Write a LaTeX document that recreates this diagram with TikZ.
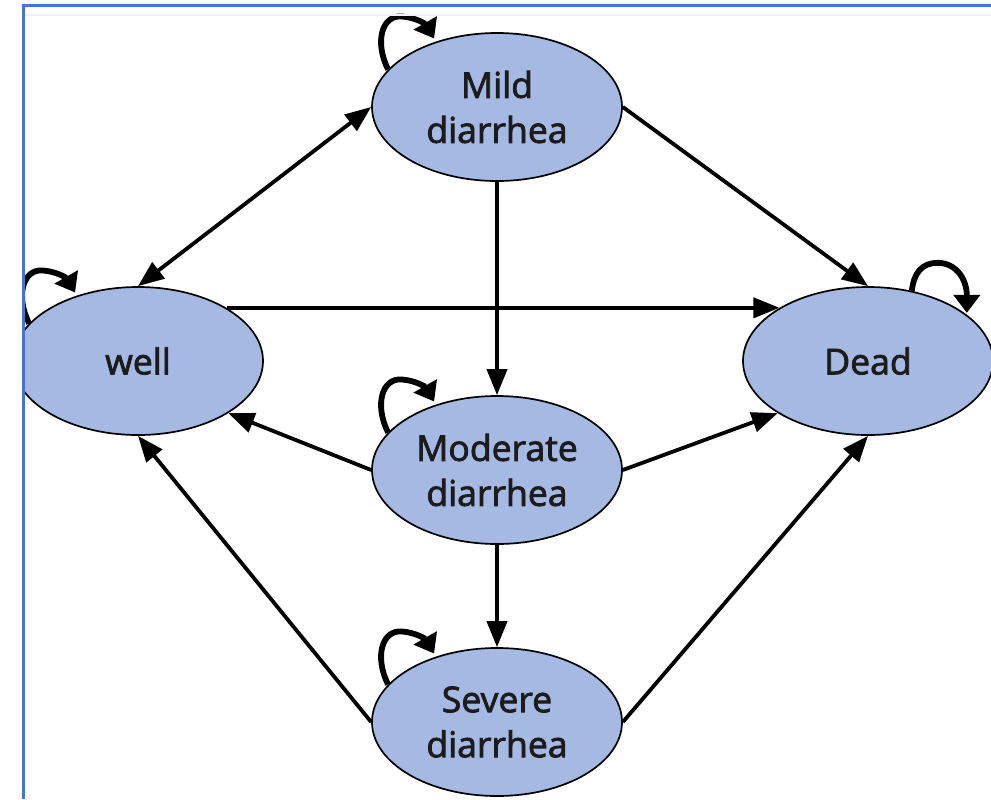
\documentclass[tikz,border=0pt]{standalone}
\usepackage{fontspec}
\setmainfont{Open Sans}[BoldFont={Open Sans}, BoldFeatures={FakeBold=2.2}]
\usetikzlibrary{arrows.meta,shapes.geometric}
\definecolor{ellfill}{RGB}{166,185,226}
\definecolor{framebl}{RGB}{70,116,214}
\definecolor{txt}{RGB}{28,28,30}
\begin{document}
\begin{tikzpicture}[x=0.5pt,y=-0.5pt,
  state/.style={ellipse, draw=black, line width=0.85pt, fill=ellfill,
    minimum width=125pt, minimum height=74pt, inner sep=0pt, align=center,
    font=\fontsize{17.8}{22.5}\selectfont\bfseries, text=txt},
  arr/.style={line width=1.9pt, -{Triangle[length=13pt,width=10pt]}},
  biarr/.style={line width=1.9pt, {Triangle[length=13pt,width=10pt]}-{Triangle[length=13pt,width=10pt]}},
  selfloop/.style={line width=2.9pt, -{Triangle[length=9pt,width=13pt]}}]
\useasboundingbox (0,0) rectangle (991,799);
\begin{scope}
\clip (24,7) rectangle (991,799);
\node[state] (mild) at (497,107) {Mild\\diarrhea};
\node[state] (well) at (138,361) {well};
\node[state] (dead) at (868,361) {Dead};
\node[state] (mod) at (497,470) {Moderate\\diarrhea};
\node[state] (sev) at (497,722) {Severe\\diarrhea};

\draw[biarr] (well.north) -- (mild.west);
\draw[arr] (mild.east) -- (dead.north);
\draw[arr] (mild.south) -- (mod.north);
\draw[arr] (well.31) -- (dead.149);
\draw[arr] (mod.west) -- (well.-30);
\draw[arr] (mod.east) -- (dead.210);
\draw[arr] (mod.south) -- (sev.north);
\draw[arr] (sev.west) -- (well.south);
\draw[arr] (sev.east) -- (dead.south);

\begin{scope}[shift={(mild.161)}]
\draw[selfloop] (0,0) .. controls (-14,-28) and (-6,-55) .. (14,-53) .. controls (28,-52) and (38,-45) .. (46,-31);
\end{scope}
\begin{scope}[shift={(mod.161)}]
\draw[selfloop] (0,0) .. controls (-14,-28) and (-6,-55) .. (14,-53) .. controls (28,-52) and (38,-45) .. (46,-31);
\end{scope}
\begin{scope}[shift={(sev.161)}]
\draw[selfloop] (0,0) .. controls (-14,-28) and (-6,-55) .. (14,-53) .. controls (28,-52) and (38,-45) .. (46,-31);
\end{scope}
\begin{scope}[shift={(well.161)}]
\draw[selfloop] (0,0) .. controls (-14,-28) and (-6,-55) .. (14,-53) .. controls (28,-52) and (38,-45) .. (46,-31);
\end{scope}
\begin{scope}[shift={(dead.58)}]
\draw[selfloop] (0,0) .. controls (2,-18) and (10,-28) .. (26,-28) .. controls (44,-28) and (55,-12) .. (55,22);
\end{scope}
\end{scope}
\draw[gray!10, line width=0.8pt] (24,15) -- (991,15);
\draw[framebl, line width=1.1pt] (23.5,799) -- (23.5,5.5) -- (991,5.5);
\end{tikzpicture}
\end{document}
